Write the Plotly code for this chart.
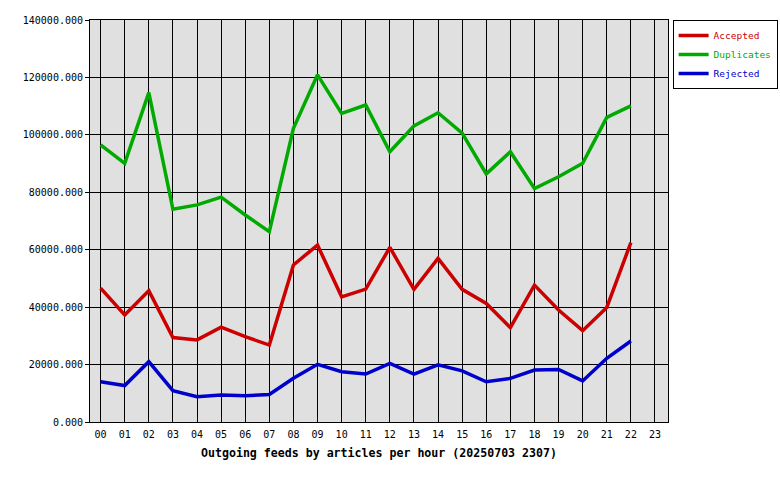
import plotly.graph_objects as go

hours = [f"{h:02d}" for h in range(24)]
accepted = [46600, 37300, 45700, 29400, 28600, 33000, 29700, 26800, 54700, 61600, 43600, 46300,
            60800, 46200, 57000, 46200, 41300, 32900, 47700, 39000, 31800, 39900, 62500]
duplicates = [96500, 90100, 114700, 74100, 75600, 78300, 72100, 66300, 102300, 120900, 107500, 110400,
              94100, 103100, 107700, 100600, 86400, 94100, 81300, 85400, 90100, 106100, 110100]
rejected = [14000, 12700, 21000, 10900, 8800, 9400, 9100, 9600, 15200, 20100, 17500, 16700,
            20400, 16700, 19900, 17800, 14000, 15200, 18100, 18300, 14300, 22200, 28200]
y_ticks = [0, 20000, 40000, 60000, 80000, 100000, 120000, 140000]

series = [("Accepted", accepted, "#cc0000"),
          ("Duplicates", duplicates, "#00aa00"),
          ("Rejected", rejected, "#0000cc")]

xidx = list(range(24))
fig = go.Figure()
for name, vals, col in series:
    fig.add_trace(go.Scatter(
        x=xidx[:len(vals)], y=vals, mode="lines",
        name=f"<span style='color:{col}'>{name}</span>",
        line=dict(color=col, width=3.5),
    ))

mono = "DejaVu Sans Mono"
fig.update_layout(
    width=780, height=480,
    margin=dict(l=90, r=112, t=20, b=58, autoexpand=False),
    paper_bgcolor="white", plot_bgcolor="#e0e0e0",
    font=dict(family=mono, size=10, color="black"),
    showlegend=True,
    legend=dict(x=1.008, y=1, xanchor="left", yanchor="top",
                bordercolor="black", borderwidth=1, bgcolor="white",
                font=dict(family=mono, size=9.5), itemwidth=30,
                tracegroupgap=0),
)
fig.update_xaxes(
    automargin=False,
    range=[-0.44, 23.54], tickmode="array", tickvals=xidx, ticktext=hours,
    showgrid=True, gridcolor="black", gridwidth=1,
    showline=True, linecolor="black", linewidth=1, mirror=True,
    ticks="", zeroline=False, tickfont=dict(family=mono, size=10),
    ticklabelstandoff=3,
    title=dict(text="<b>Outgoing feeds by articles per hour (20250703 2307)</b>",
               font=dict(family=mono, size=11.6), standoff=9),
)
fig.update_yaxes(
    automargin=False,
    range=[0, 140000], tickmode="array", tickvals=y_ticks,
    tickformat=".3f", showgrid=True, gridcolor="black", gridwidth=1,
    showline=True, linecolor="black", linewidth=1, mirror=True,
    ticks="outside", ticklen=4, tickcolor="black", zeroline=False,
    tickfont=dict(family=mono, size=10),
)
fig.write_html(
    "out.html",
    config={"displayModeBar": False},
    post_script="document.body.style.margin='0';document.body.style.overflow='hidden';",
)
